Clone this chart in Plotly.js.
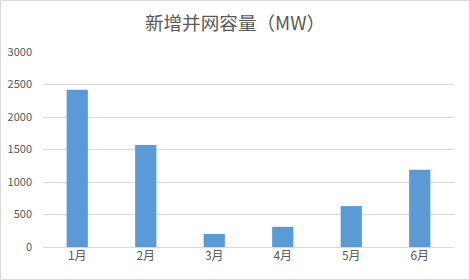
<!DOCTYPE html>
<html><head><meta charset="utf-8">
<script src="https://cdn.plot.ly/plotly-3.0.1.min.js"></script>
<style>html,body{margin:0;padding:0;background:#fff}#c{width:470px;height:280px;box-sizing:border-box;border:1px solid #d9d9d9}</style>
</head><body><div id="c"></div>
<script>
const categories = ["1月","2月","3月","4月","5月","6月"];
const values = [2420, 1570, 200, 310, 630, 1190];
const yTicks = [0, 500, 1000, 1500, 2000, 2500, 3000];
const font = "'Microsoft YaHei','Noto Sans CJK SC','DejaVu Sans',sans-serif";
Plotly.newPlot('c', [{
  type: 'bar', x: categories, y: values,
  marker: {color: '#5b9bd5'}, hoverinfo: 'none'
}], {
  width: 468, height: 278,
  margin: {l: 42, r: 15, t: 51, b: 32},
  paper_bgcolor: '#fff', plot_bgcolor: '#fff',
  title: {text: '新增并网容量（MW）', x: 0.5, xanchor: 'center', y: 0.92, yanchor: 'middle',
          font: {family: font, size: 18.6, color: '#595959'}},
  bargap: 0.69,
  xaxis: {showgrid: false, showline: false, zeroline: false, ticks: '',
          tickfont: {family: font, size: 12, color: '#595959'}, fixedrange: true},
  yaxis: {range: [0, 3000], tickvals: yTicks, showgrid: true, gridcolor: '#d9d9d9', gridwidth: 1,
          zeroline: true, zerolinecolor: '#d9d9d9', showline: false, ticks: '',
          ticklabelstandoff: 10,
          tickfont: {family: font, size: 11, color: '#595959'}, fixedrange: true},
  showlegend: false
}, {displayModeBar: false, staticPlot: true});
</script></body></html>
